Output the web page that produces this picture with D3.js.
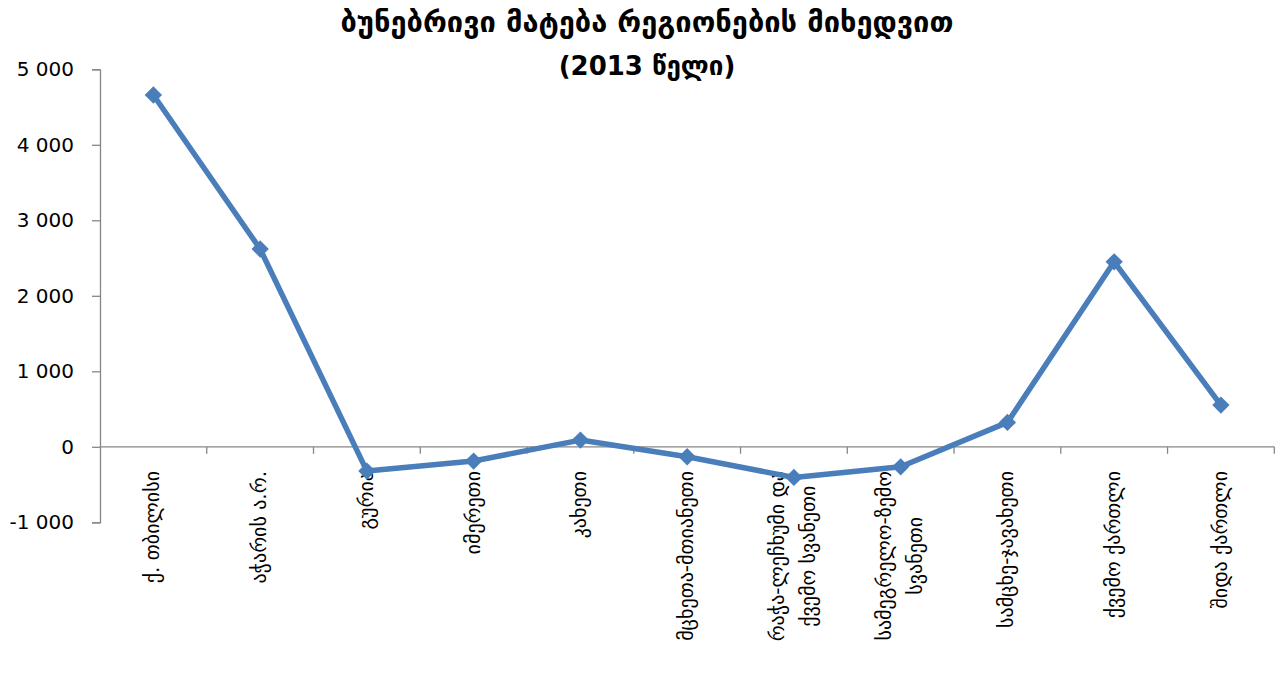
<!DOCTYPE html>
<html>
<head>
<meta charset="utf-8">
<script src="https://cdn.jsdelivr.net/npm/d3@7"></script>
<style>
  html, body { margin: 0; padding: 0; background: #fff; }
  svg { display: block; font-family: "DejaVu Sans", sans-serif; }
</style>
</head>
<body>
<svg id="chart" width="1276" height="675"></svg>
<script>
// natural increase by region, 2013
const categories = [
  "ქ. თბილისი",
  "აჭარის ა.რ.",
  "გურია",
  "იმერეთი",
  "კახეთი",
  "მცხეთა-მთიანეთი",
  "რაჭა-ლეჩხუმი და\nქვემო სვანეთი",
  "სამეგრელო-ზემო\nსვანეთი",
  "სამცხე-ჯავახეთი",
  "ქვემო ქართლი",
  "შიდა ქართლი"
];
const values = [4660, 2620, -322, -189, 89, -132, -406, -265, 323, 2450, 552];
const yTicks = [-1000, 0, 1000, 2000, 3000, 4000, 5000];
const titleLines = ["ბუნებრივი მატება რეგიონების მიხედვით", "(2013 წელი)"];

const d3 = window.d3;
const svg = d3.select("#chart");

const plot = { left: 100, right: 1274.3, top: 69.3, bottom: 522.3 };
const axisColor = "#868686";
const lineColor = "#4A7EBB";

const x = d3.scaleBand()
  .domain(categories)
  .range([plot.left, plot.right])
  .paddingInner(0).paddingOuter(0);

const y = d3.scaleLinear()
  .domain([-1000, 5000])
  .range([plot.bottom, plot.top]);

// "5 000", "-1 000" (plain hyphen, space as thousands separator)
const fmtNum = v => d3.format(",")(v).replace(/,/g, " ").replace("\u2212", "-");

// y axis
const yAxis = svg.append("g")
  .attr("transform", `translate(${plot.left},0)`)
  .call(d3.axisLeft(y).tickValues(yTicks).tickSize(8).tickPadding(18).tickFormat(fmtNum));
yAxis.select(".domain").attr("stroke", axisColor).attr("stroke-width", 1.3);
yAxis.selectAll(".tick line").attr("stroke", axisColor).attr("stroke-width", 1.3);
yAxis.selectAll(".tick text")
  .attr("fill", "#000")
  .attr("font-size", 20)
  .attr("font-family", "DejaVu Sans, sans-serif");

// x axis at zero with ticks at band boundaries
const zeroY = y(0);
const xg = svg.append("g");
xg.append("line")
  .attr("x1", plot.left).attr("x2", plot.right)
  .attr("y1", zeroY).attr("y2", zeroY)
  .attr("stroke", axisColor).attr("stroke-width", 1.3);

const boundaries = categories.map(c => x(c) + x.bandwidth());
xg.selectAll(".xtick")
  .data(boundaries)
  .enter()
  .append("line")
  .attr("class", "xtick")
  .attr("x1", d => d).attr("x2", d => d)
  .attr("y1", zeroY).attr("y2", zeroY + 7)
  .attr("stroke", axisColor).attr("stroke-width", 1.3);

// category labels, rotated, multi-line centred on the longest line
const labelTop = 471;
const lineGap = 31;
categories.forEach(c => {
  const lines = c.split("\n");
  const cx = x(c) + x.bandwidth() / 2;
  const t = svg.append("text")
    .attr("transform", `translate(${cx},${labelTop}) rotate(-90)`)
    .attr("font-size", 20)
    .attr("fill", "#000")
    .attr("text-anchor", "middle");
  const spans = lines.map((ln, i) => t.append("tspan")
    .attr("y", (i - (lines.length - 1) / 2) * lineGap)
    .attr("dy", "0.3em")
    .text(ln));
  const maxW = d3.max(spans, s => s.node().getComputedTextLength());
  spans.forEach(s => s.attr("x", -maxW / 2));
});

// series line
const pts = categories.map((c, i) => ({ c, v: values[i] }));
const line = d3.line()
  .x(d => x(d.c) + x.bandwidth() / 2)
  .y(d => y(d.v));

svg.append("path")
  .datum(pts)
  .attr("d", line)
  .attr("fill", "none")
  .attr("stroke", lineColor)
  .attr("stroke-width", 5.5)
  .attr("stroke-linejoin", "round");

const diamond = d3.symbol().type(d3.symbolSquare).size(150);
svg.selectAll(".marker")
  .data(pts)
  .enter()
  .append("path")
  .attr("class", "marker")
  .attr("d", diamond)
  .attr("transform", d => `translate(${x(d.c) + x.bandwidth() / 2},${y(d.v)}) rotate(45)`)
  .attr("fill", lineColor);

// title
const title = svg.append("text")
  .attr("x", 647)
  .attr("text-anchor", "middle")
  .attr("fill", "#000");
title.append("tspan")
  .attr("x", 647).attr("y", 32)
  .attr("font-size", 29)
  .attr("font-family", "DejaVu Sans, sans-serif")
  .attr("font-weight", "bold")
  .text(titleLines[0]);
title.append("tspan")
  .attr("x", 647).attr("y", 75)
  .attr("font-size", 26)
  .attr("font-family", "DejaVu Sans, sans-serif")
  .attr("font-weight", "bold")
  .text(titleLines[1]);
</script>
</body>
</html>
